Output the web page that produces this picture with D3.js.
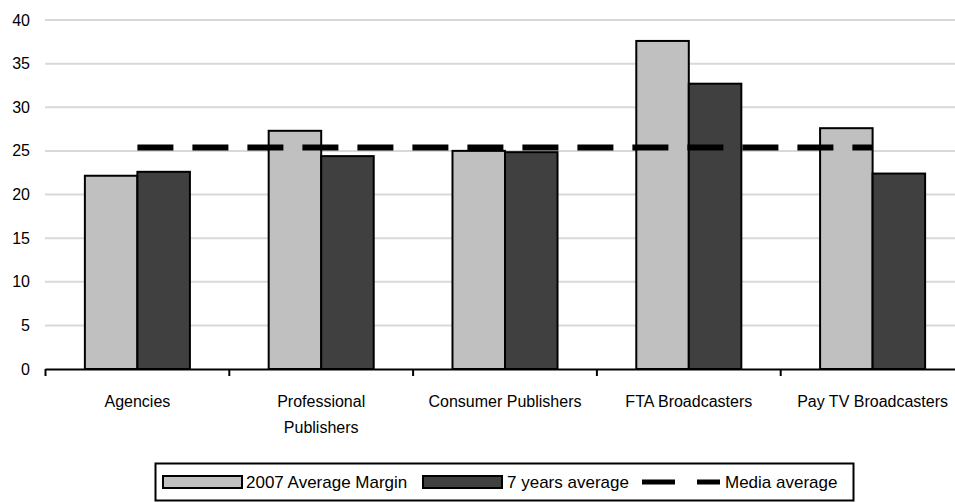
<!DOCTYPE html>
<html><head><meta charset="utf-8">
<script src="https://cdn.jsdelivr.net/npm/d3@7"></script>
<style>body{margin:0;background:#fff}svg{display:block}text{font-family:"Liberation Sans",Arial,sans-serif;fill:#000}</style>
</head><body><svg id="c" width="955" height="502"></svg>
<script>
const categories = ["Agencies", "Professional\nPublishers", "Consumer Publishers", "FTA Broadcasters", "Pay TV Broadcasters"];
const seriesNames = ["2007 Average Margin", "7 years average"];
const margin2007 = [22.15, 27.3, 25.0, 37.6, 27.6];
const sevenYearAvg = [22.6, 24.4, 24.85, 32.7, 22.4];
const mediaAverage = 25.4;
const yTicks = [0, 5, 10, 15, 20, 25, 30, 35, 40];
const colors = ["#c0c0c0", "#404040"];

const svg = d3.select("#c");
const x0 = d3.scaleBand().domain(categories).range([45.5, 964.5]).paddingInner(0).paddingOuter(0);
const x1 = d3.scaleBand().domain(seriesNames).range([0, x0.bandwidth()]).paddingInner(0).paddingOuter(0.75);
const y = d3.scaleLinear().domain([0, 40]).range([369, 20]);

// gridlines
svg.append("g").selectAll("line").data(yTicks.filter(d => d > 0)).join("line")
  .attr("x1", 45).attr("x2", 955).attr("y1", d => y(d)).attr("y2", d => y(d))
  .attr("stroke", "#d9d9d9").attr("stroke-width", 2);

// y labels
svg.append("g").selectAll("text").data(yTicks).join("text")
  .attr("x", 30).attr("y", d => y(d)).attr("dy", "0.35em").attr("text-anchor", "end")
  .attr("font-size", 16).text(d => d);

// bars
const data = categories.map((c, i) => ({c, vals: [margin2007[i], sevenYearAvg[i]]}));
const g = svg.append("g").selectAll("g").data(data).join("g").attr("transform", d => `translate(${x0(d.c)},0)`);
g.selectAll("rect").data(d => d.vals.map((v, j) => ({s: seriesNames[j], v, j}))).join("rect")
  .attr("x", d => x1(d.s)).attr("width", x1.bandwidth())
  .attr("y", d => y(d.v)).attr("height", d => y(0) - y(d.v))
  .attr("fill", d => colors[d.j]).attr("stroke", "#000").attr("stroke-width", 2);

// media average line
svg.append("line")
  .attr("x1", x0(categories[0]) + x0.bandwidth() / 2)
  .attr("x2", x0(categories[4]) + x0.bandwidth() / 2)
  .attr("y1", y(mediaAverage)).attr("y2", y(mediaAverage))
  .attr("stroke", "#000").attr("stroke-width", 6).attr("stroke-dasharray", "36 19");

// x axis
const xa = svg.append("g");
xa.append("line").attr("x1", 45.5).attr("x2", 955).attr("y1", 369.5).attr("y2", 369.5).attr("stroke", "#000").attr("stroke-width", 2);
xa.selectAll("line.t").data(categories).join("line").attr("class", "t")
  .attr("x1", d => x0(d)).attr("x2", d => x0(d)).attr("y1", 369).attr("y2", 376)
  .attr("stroke", "#000").attr("stroke-width", 2);
xa.selectAll("text").data(categories).join("text")
  .attr("x", d => x0(d) + x0.bandwidth() / 2).attr("y", 407)
  .attr("text-anchor", "middle").attr("font-size", 16)
  .each(function(d) {
    const lines = d.split("\n");
    d3.select(this).selectAll("tspan").data(lines).join("tspan")
      .attr("x", x0(d) + x0.bandwidth() / 2).attr("dy", (l, i) => i === 0 ? 0 : 26).text(l => l);
  });

// legend
const lg = svg.append("g");
lg.append("rect").attr("x", 155.5).attr("y", 463.5).attr("width", 698).attr("height", 37).attr("fill", "#fff").attr("stroke", "#000").attr("stroke-width", 2);
const ly = 482;
lg.append("rect").attr("x", 163).attr("y", ly - 6).attr("width", 79).attr("height", 12).attr("fill", colors[0]).attr("stroke", "#000").attr("stroke-width", 2);
lg.append("text").attr("x", 246).attr("y", ly).attr("dy", "0.35em").attr("font-size", 17).text(seriesNames[0]);
lg.append("rect").attr("x", 423).attr("y", ly - 6).attr("width", 79).attr("height", 12).attr("fill", colors[1]).attr("stroke", "#000").attr("stroke-width", 2);
lg.append("text").attr("x", 507).attr("y", ly).attr("dy", "0.35em").attr("font-size", 17).text(seriesNames[1]);
lg.append("line").attr("x1", 642).attr("x2", 720).attr("y1", ly).attr("y2", ly).attr("stroke", "#000").attr("stroke-width", 5).attr("stroke-dasharray", "33 22");
lg.append("text").attr("x", 725).attr("y", ly).attr("dy", "0.35em").attr("font-size", 17).text("Media average");
</script></body></html>
